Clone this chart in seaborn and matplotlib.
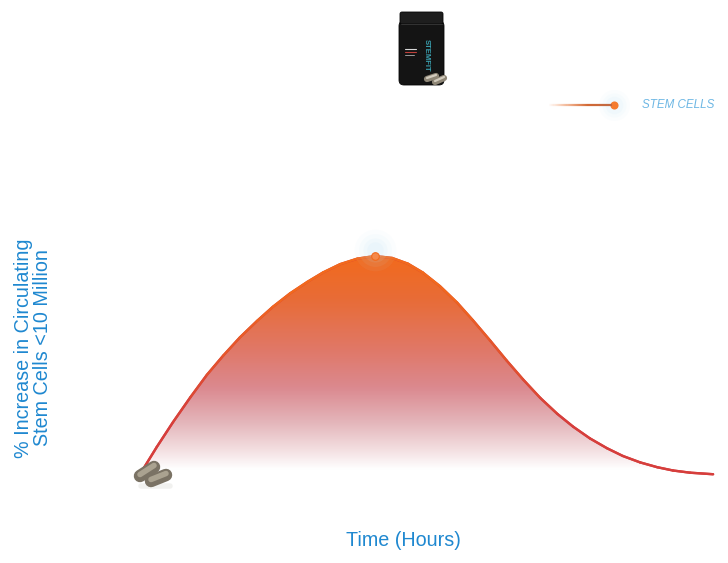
import numpy as np
import pandas as pd
import seaborn as sns
import matplotlib.pyplot as plt
from matplotlib.collections import LineCollection
from matplotlib.patches import PathPatch, FancyBboxPatch
from matplotlib.path import Path

# values (time in hours, % increase)
hours = [0.00, 0.31, 0.65, 1.01, 1.36, 1.70, 2.05, 2.41, 2.74, 3.10, 3.46,
         3.79, 4.15, 4.51, 4.88, 5.24, 5.57, 5.88, 6.24, 6.60, 6.93, 7.29,
         7.64, 7.98, 8.34, 8.70, 9.03, 9.38, 9.74, 10.07, 10.43, 10.79,
         11.12, 11.48, 11.96]
increase = [2.3, 13.2, 24.5, 35.7, 46.0, 54.7, 63.0, 70.5, 76.9, 83.0, 88.2,
            92.5, 96.3, 98.8, 100.0, 99.1, 96.5, 92.5, 86.3, 78.8, 70.8, 61.6,
            52.4, 43.9, 35.5, 28.2, 22.4, 17.1, 12.6, 9.1, 6.2, 4.0, 2.5,
            1.5, 0.8]
series_name = "STEM CELLS"
x_label = "Time (Hours)"
y_label = "% Increase in Circulating\nStem Cells <10 Million"

df = pd.DataFrame({"Hours": hours, "Increase": increase})

W, H = 728, 563
BLUE = "#1f88d0"
ORANGE = np.array([242, 106, 28]) / 255
RED = np.array([214, 62, 60]) / 255

sns.set_theme(style="white")
plt.rcParams["font.family"] = ["Liberation Sans", "DejaVu Sans"]

fig = plt.figure(figsize=(W / 100, H / 100), dpi=100)
fig.patch.set_facecolor("white")

# main plotting area, placed where the curve sits in the reference
ax = fig.add_axes([142 / W, (H - 476) / H, 573 / W, 220 / H])
ax.set_xlim(0, 12)
ax.set_ylim(0, 100)
ax.set_axis_off()

# gradient fill under the curve
stop_v = [0, 3, 12, 24, 40, 57, 80, 100]
stop_rgb = np.array([
    [255, 255, 255], [255, 255, 255], [243, 222, 224], [228, 182, 187],
    [219, 137, 143], [224, 120, 104], [232, 108, 55], [242, 106, 28],
]) / 255
vv = np.linspace(0, 100, 400)
grad = np.stack([np.interp(vv, stop_v, stop_rgb[:, k]) for k in range(3)], axis=-1)
grad = grad[:, None, :]
im = ax.imshow(grad, extent=(0, 12, 0, 100.5), origin="lower", aspect="auto",
               interpolation="bilinear", zorder=1)
poly = np.column_stack([[df["Hours"].iloc[0]] + list(df["Hours"]) + [df["Hours"].iloc[-1]],
                        [0] + list(df["Increase"]) + [0]])
clip = PathPatch(Path(poly), transform=ax.transData, facecolor="none", edgecolor="none")
ax.add_patch(clip)
im.set_clip_path(clip)

# curve line: seaborn base line plus a height-coloured overlay
sns.lineplot(data=df, x="Hours", y="Increase", ax=ax, color=RED, linewidth=1.7,
             zorder=3, clip_on=False)
for ln in ax.lines:
    ln.set_solid_joinstyle("round")
pts = df[["Hours", "Increase"]].to_numpy()
segs = np.stack([pts[:-1], pts[1:]], axis=1)
mid = (pts[:-1, 1] + pts[1:, 1]) / 2
f = np.clip((mid - 25) / 60, 0, 1)[:, None]
seg_colors = RED * (1 - f) + ORANGE * f
ax.add_collection(LineCollection(segs, colors=seg_colors, linewidths=1.7,
                                 zorder=4, clip_on=False, capstyle="round",
                                 joinstyle="round"))

# peak marker with glow
ip = int(np.argmax(df["Increase"]))
px, py = df["Hours"].iloc[ip], df["Increase"].iloc[ip]
for s, a in [(900, 0.05), (560, 0.07), (300, 0.1), (140, 0.12)]:
    ax.scatter(px, py + 2.5, s=s, color="#bfe2f5", alpha=a, linewidths=0, zorder=5,
               clip_on=False)
ax.scatter(px, py, s=30, color="#f5894a", edgecolor="#f26a1c", linewidths=0.8,
           zorder=6, clip_on=False)

# overlay axes in pixel units for the decorations
ov = fig.add_axes([0, 0, 1, 1], zorder=10)
ov.set_xlim(0, W)
ov.set_ylim(H, 0)
ov.set_axis_off()
ov.patch.set_alpha(0)

# legend: fading line, glowing dot, label
lx = np.linspace(548, 612, 60)
lsegs = np.stack([np.column_stack([lx[:-1], np.full(59, 105)]),
                  np.column_stack([lx[1:], np.full(59, 105)])], axis=1)
t = np.linspace(0, 1, 59)
lcol = np.zeros((59, 4))
lcol[:, :3] = ORANGE * (1 - t[:, None] * 0.4) + np.array([0.45, 0.4, 0.5]) * (t[:, None] * 0.4)
lcol[:, 3] = np.clip(t * 1.6, 0, 1)
ov.add_collection(LineCollection(lsegs, colors=lcol, linewidths=1.6))
for s, a in [(500, 0.05), (300, 0.07), (160, 0.1)]:
    ov.scatter(614, 105, s=s, color="#bfe2f5", alpha=a, linewidths=0)
ov.scatter(614, 105, s=34, color="#f57b2e", linewidths=0)
ov.text(642, 105, series_name, color="#6db7e4", fontsize=8.4, fontstyle="italic",
        ha="left", va="center")

# supplement bottle at the top
ov.add_patch(FancyBboxPatch((399, 21), 45, 64, boxstyle="round,pad=0,rounding_size=5",
                            facecolor="#141414", edgecolor="#050505", linewidth=0.6))
ov.add_patch(FancyBboxPatch((400, 12), 43, 12, boxstyle="round,pad=0,rounding_size=2",
                            facecolor="#1e1e1e", edgecolor="#050505", linewidth=0.6))
ov.plot([401, 442], [24, 24], color="#3a3a3a", linewidth=0.6)
ov.text(426, 55, "STEMFIT", color="#3aa0b0", fontsize=5.5, rotation=-90,
        ha="center", va="center", fontweight="bold")
ov.plot([405, 416], [49, 49], color="#d8d8d8", linewidth=0.8)
ov.plot([405, 416], [52, 52], color="#c0403a", linewidth=0.8)
ov.plot([405, 414], [55, 55], color="#9a9a9a", linewidth=0.7)
for (x0, y0, x1, y1) in [(427, 79, 436, 76), (435, 82, 444, 78)]:
    ov.plot([x0, x1], [y0, y1], color="#8e8676", linewidth=4.5, solid_capstyle="round")
    ov.plot([x0, x1], [y0 - 1, y1 - 1], color="#d2cbbd", linewidth=1.6,
            solid_capstyle="round")

# capsules at the start of the curve
ov.plot([141, 170], [486, 486], color="#eeeeec", linewidth=4, alpha=0.8,
        solid_capstyle="round")
for (x0, y0, x1, y1) in [(140, 476, 154, 467), (151, 481, 166, 475)]:
    ov.plot([x0, x1], [y0, y1], color="#7a7264", linewidth=9, solid_capstyle="round")
    ov.plot([x0, x1], [y0 - 1.5, y1 - 1.5], color="#aaa290", linewidth=4,
            solid_capstyle="round")

# axis titles
fig.text(403 / W, 1 - 540 / H, x_label, color=BLUE, fontsize=14.2, ha="center",
         va="center")
fig.text(33 / W, 1 - 348 / H, y_label, color=BLUE, fontsize=14.2, ha="center",
         va="center", rotation=90, linespacing=1.0, multialignment="center")

fig.savefig("out.png", dpi=100, facecolor="white")
